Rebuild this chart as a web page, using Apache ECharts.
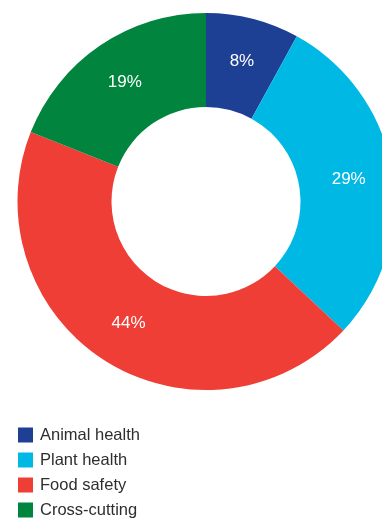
<!DOCTYPE html>
<html><head><meta charset="utf-8">
<style>html,body{margin:0;padding:0;background:#fff}#c{width:382px;height:522px}</style>
<script src="https://cdn.jsdelivr.net/npm/echarts@6/dist/echarts.min.js"></script>
</head><body><div id="c"></div>
<script>
const categories = ["Animal health", "Plant health", "Food safety", "Cross-cutting"];
const shares = [8, 29, 44, 19];
const colors = ["#1d3f94", "#00b8e4", "#ee3e36", "#00843e"];

const chart = echarts.init(document.getElementById('c'), null, {renderer: 'canvas'});
chart.setOption({
  animation: false,
  color: colors,
  legend: {
    orient: 'vertical', left: 18, top: 426.5, padding: 0,
    height: 200,
    itemWidth: 15, itemHeight: 15, itemGap: 8,
    icon: 'rect',
    textStyle: {fontFamily: 'Liberation Sans, Arial, sans-serif', fontSize: 16.5, lineHeight: 15, color: '#2e2e2e', padding: [0,0,0,2]},
    data: categories
  },
  series: [{
    type: 'pie',
    center: [206, 201.5],
    radius: [94.5, 188.5],
    startAngle: 90,
    clockwise: true,
    avoidLabelOverlap: false,
    label: {
      position: 'inside',
      formatter: p => p.value + '%',
      color: '#fff',
      fontFamily: 'Liberation Sans, Arial, sans-serif',
      fontSize: 17
    },
    labelLine: {show: false},
    itemStyle: {borderWidth: 0},
    emphasis: {disabled: true},
    data: categories.map((c, i) => ({name: c, value: shares[i]}))
  }]
});
</script></body></html>
